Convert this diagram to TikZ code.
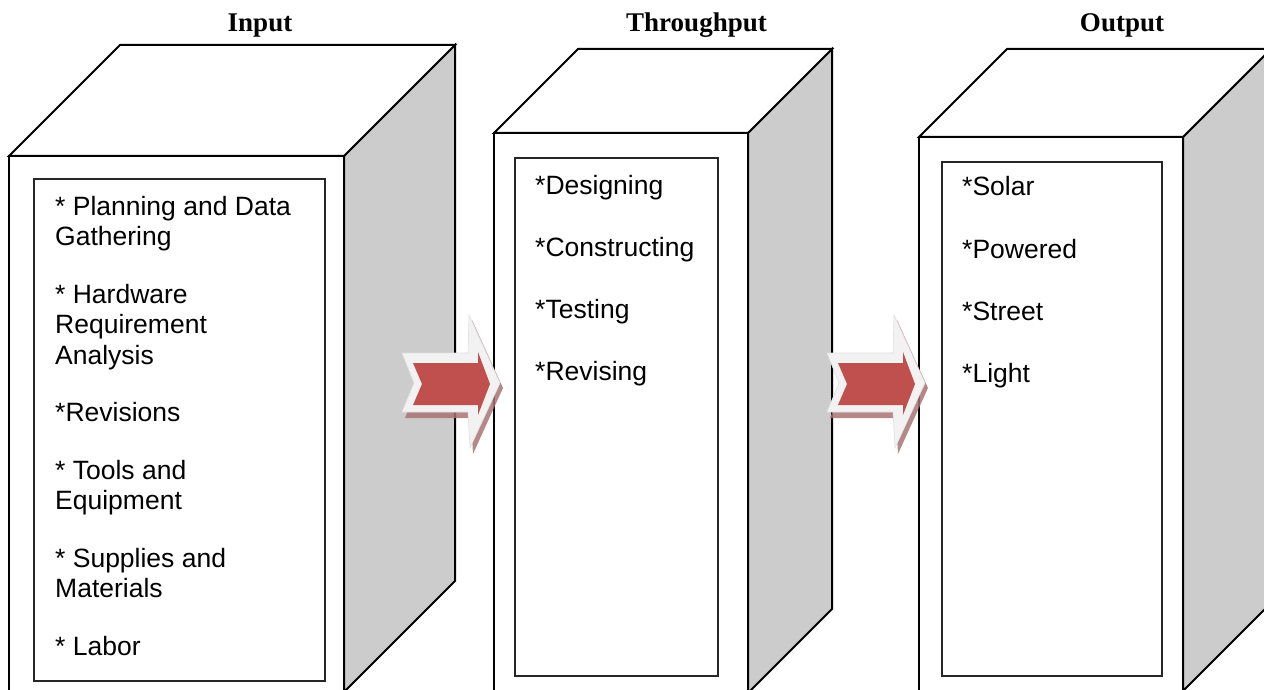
\documentclass[tikz,border=0pt]{standalone}
\usepackage{fontspec}
\setmainfont{Liberation Serif}
\newfontfamily\arialfont{Liberation Sans}
\definecolor{sidegray}{RGB}{204,204,204}
\definecolor{arrowrim}{RGB}{242,242,242}
\definecolor{arrowred}{RGB}{192,80,77}
\definecolor{arrowshade}{RGB}{170,115,115}

\begin{document}
\begin{tikzpicture}[x=1pt,y=-1pt,
  edge/.style={draw=black,line width=2pt,line join=miter},
  frontface/.style={edge,fill=white},
  sideface/.style={edge,fill=sidegray},
  innerbox/.style={draw=black!85,line width=1.7pt},
  item/.style={anchor=base west,inner sep=0pt,font=\arialfont\fontsize{26.5}{30.5}\selectfont},
  heading/.style={anchor=base,inner sep=0pt,font=\bfseries\fontsize{27}{30}\selectfont},
  rim/.style={fill=arrowrim,draw=black!12,line width=0.6pt},
  shade/.style={fill=arrowshade,opacity=0.85},
  core/.style={fill=arrowred}]

\useasboundingbox (0,0) rectangle (1264,690);
\clip (0,0) rectangle (1264,690);

% headings
\node[heading] (tin)  at (260,32)   {Input};
\node[heading] (tthr) at (696.5,32) {Throughput};
\node[heading] (tout) at (1122,32)  {Output};

% ---- Input block ----
\draw[sideface]  (344,156) -- (455,45) -- (455,581) -- (344,692) -- cycle;
\draw[frontface] (9,156) -- (120,45) -- (455,45) -- (344,156) -- cycle;
\draw[frontface] (9,156) rectangle (344,692);
\draw[innerbox]  (34,179) rectangle (325,681);

% ---- Throughput block ----
\draw[sideface]  (748,133) -- (832,49) -- (832,609) -- (748,693) -- cycle;
\draw[frontface] (494,133) -- (578,49) -- (832,49) -- (748,133) -- cycle;
\draw[frontface] (494,133) rectangle (748,693);
\draw[innerbox]  (515,158) rectangle (718,676);

% ---- Output block ----
\draw[sideface]  (1183,137) -- (1271,49) -- (1271,603) -- (1183,691) -- cycle;
\draw[frontface] (919,137) -- (1007,49) -- (1271,49) -- (1183,137) -- cycle;
\draw[frontface] (919,137) rectangle (1183,691);
\draw[innerbox]  (942,162) rectangle (1162,676);

% input items
\node[item] (i1a) at (55,215)   {* Planning and Data};
\node[item] (i1b) at (55,245.5) {Gathering};
\node[item] (i2a) at (55,303)   {* Hardware};
\node[item] (i2b) at (55,333.5) {Requirement};
\node[item] (i2c) at (55,364)   {Analysis};
\node[item] (i3)  at (55,421.5) {*Revisions};
\node[item] (i4a) at (55,479)   {* Tools and};
\node[item] (i4b) at (55,509.5) {Equipment};
\node[item] (i5a) at (55,567)   {* Supplies and};
\node[item] (i5b) at (55,597.5) {Materials};
\node[item] (i6)  at (55,655)   {* Labor};

% throughput items
\node[item] (p1) at (535,194) {*Designing};
\node[item] (p2) at (535,256) {*Constructing};
\node[item] (p3) at (535,318) {*Testing};
\node[item] (p4) at (535,380) {*Revising};

% output items
\node[item] (o1) at (962,196) {*Solar};
\node[item] (o2) at (962,258) {*Powered};
\node[item] (o3) at (962,320) {*Street};
\node[item] (o4) at (962,382) {*Light};

% chevron arrows between the blocks
\foreach \dx in {0,425}{
  \begin{scope}[xshift=\dx pt]
    \fill[shade] (405,358) -- (471,358) -- (472,320) -- (503,388) -- (473,454) -- (471,418) -- (405,418) -- (417,388) -- cycle;
    \draw[rim] (402,353) -- (468,353) -- (469,315) -- (500,383) -- (470,448) -- (468,412) -- (402,412) -- (414,383) -- cycle;
    \fill[core] (413,363) -- (478,363) -- (478,352) -- (490,384) -- (478,415) -- (478,405) -- (413,405) -- (422,384) -- cycle;
  \end{scope}
}
\end{tikzpicture}
\end{document}
